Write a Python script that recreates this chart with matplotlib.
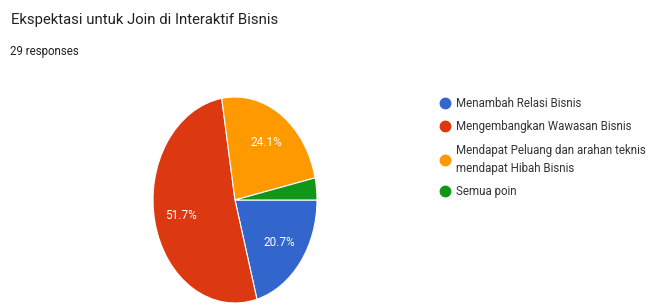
import matplotlib
matplotlib.use("Agg")
import matplotlib.pyplot as plt
from matplotlib.lines import Line2D

title = "Ekspektasi untuk Join di Interaktif Bisnis"
subtitle = "29 responses"
categories = ["Menambah Relasi Bisnis",
              "Mengembangkan Wawasan Bisnis",
              "Mendapat Peluang dan arahan teknis\nmendapat Hibah Bisnis",
              "Semua poin"]
counts = [6, 15, 7, 1]
colors = ["#3366cc", "#dc3912", "#ff9900", "#109618"]

plt.rcParams['font.family'] = ['Roboto', 'DejaVu Sans']

W, H = 646, 304
fig = plt.figure(figsize=(W / 100, H / 100), dpi=100)
fig.patch.set_facecolor("white")

# pie axes (ellipse, horizontally squashed like the reference)
cx, cy, rx, ry = 235, 200, 82, 103
ax = fig.add_axes([(cx - rx) / W, (H - cy - ry) / H, 2 * rx / W, 2 * ry / H])

def pct(p):
    return f"{p:.1f}%" if p > 5 else ""

wedges, texts, autotexts = ax.pie(
    counts, colors=colors, startangle=0, counterclock=False,
    autopct=pct, pctdistance=0.68,
    wedgeprops=dict(edgecolor="white", linewidth=0.8),
    textprops=dict(color="white", fontsize=8.5))
ax.set_aspect("auto")
ax.set_xlim(-1, 1)
ax.set_ylim(-1, 1)
ax.axis("off")

fig.text(11 / W, 1 - 24 / H, title, fontsize=10.7, color="#202124",
         ha="left", va="baseline")
fig.text(10 / W, 1 - 55 / H, subtitle, fontsize=8.3, color="#202124",
         ha="left", va="baseline")

handles = [Line2D([], [], marker="o", linestyle="none", markersize=7.5,
                  markerfacecolor=c, markeredgecolor=c) for c in colors]
leg = fig.legend(handles, categories, loc="upper left",
                 bbox_to_anchor=(440 / W, 1 - 97 / H), frameon=False,
                 fontsize=8.3, handlelength=0.8, handletextpad=0.55,
                 labelspacing=0.9, borderpad=0, borderaxespad=0)
for t in leg.get_texts():
    t.set_color("#333333")
    t.set_linespacing(1.5)

fig.savefig("out.png", dpi=100, facecolor="white")
